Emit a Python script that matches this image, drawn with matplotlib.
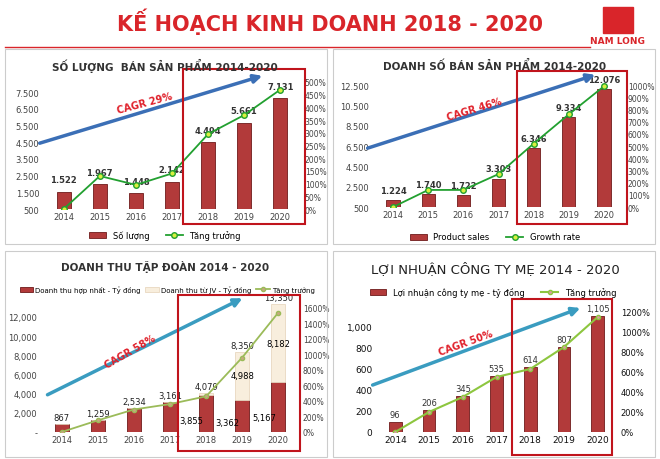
import matplotlib
matplotlib.use("Agg")
import matplotlib.pyplot as plt
from matplotlib.patches import Rectangle, FancyArrowPatch
from matplotlib.ticker import FuncFormatter

W, H = 660, 460
years = ["2014", "2015", "2016", "2017", "2018", "2019", "2020"]
units_sold = [1522, 1967, 1448, 2142, 4494, 5661, 7131]
units_growth = [0, 130, 95, 140, 295, 370, 470]
sales = [1224, 1740, 1722, 3303, 6346, 9334, 12076]
sales_growth = [0, 140, 140, 270, 520, 760, 990]
rev_consolidated = [867, 1259, 2534, 3161, 3855, 3362, 5167]
rev_jv = [0, 0, 0, 0, 224, 4988, 8182]
rev_total = [867, 1259, 2534, 3161, 4079, 8350, 13350]
rev_growth = [0, 150, 290, 360, 460, 960, 1540]
profit = [96, 206, 345, 535, 614, 807, 1105]
profit_growth = [0, 200, 350, 550, 630, 850, 1150]

plt.rcParams['font.family'] = ['DejaVu Sans']
fig = plt.figure(figsize=(6.6, 4.6), dpi=100)

def ax_px(x0, y0, x1, y1):
    return fig.add_axes([x0 / W, 1 - y1 / H, (x1 - x0) / W, (y1 - y0) / H])

def fx(x): return x / W
def fy(y): return 1 - y / H

BAR = '#B23A3A'
BAR_E = '#6E1A1A'
dot = FuncFormatter(lambda v, p: f"{int(v):,}".replace(",", "."))
com = FuncFormatter(lambda v, p: "-" if v == 0 else f"{int(v):,}")
pct = FuncFormatter(lambda v, p: f"{int(round(v))}%")

def style(ax, ax2):
    for a in (ax, ax2):
        for s in a.spines.values():
            s.set_visible(False)
        a.tick_params(length=0, labelsize=6, colors='#444444', pad=2)
    ax2.tick_params(labelsize=5.5)

# Title
fig.text(0.5, fy(22), "KẾ HOẠCH KINH DOANH 2018 - 2020", ha='center', va='center',
         color='#D9252A', fontsize=15, fontweight='bold')
fig.add_artist(Rectangle((fx(603), fy(34)), fx(30), fy(8) - fy(34), transform=fig.transFigure,
                         color='#D9252A'))
fig.text(fx(617), fy(42), "NAM LONG", ha='center', va='center', color='#D9252A',
         fontsize=6.5, fontweight='bold')
fig.add_artist(plt.Line2D([fx(5), fx(590)], [fy(48), fy(48)], color='#D9252A', lw=1))

# panel frames
for (x0, y0, x1, y1) in [(5, 50, 327, 245), (333, 50, 655, 245), (5, 252, 327, 458), (333, 252, 655, 458)]:
    fig.add_artist(Rectangle((fx(x0), fy(y1)), fx(x1) - fx(x0), fy(y0) - fy(y1),
                             transform=fig.transFigure, fill=False, ec='#cccccc', lw=0.8))

x = list(range(7))

def arrow(p0, p1, color, txt, tp, rot):
    fig.add_artist(FancyArrowPatch((fx(p0[0]), fy(p0[1])), (fx(p1[0]), fy(p1[1])),
                                   transform=fig.transFigure, arrowstyle='-|>', mutation_scale=12,
                                   color=color, lw=2.5))
    fig.text(fx(tp[0]), fy(tp[1]), txt, rotation=rot, color='#E0202A', fontsize=7,
             fontweight='bold', ha='center', va='center')

def redbox(x0, y0, x1, y1):
    fig.add_artist(Rectangle((fx(x0), fy(y1)), fx(x1) - fx(x0), fy(y0) - fy(y1),
                             transform=fig.transFigure, fill=False, ec='#C0141C', lw=1.5))

# Panel 1
ax = ax_px(42, 83, 302, 210); ax2 = ax.twinx()
ax.bar(x, units_sold, width=0.38, color=BAR, edgecolor=BAR_E, lw=0.6, label="Số lượng")
ax.set_ylim(500, 8100); ax.set_yticks([500, 1500, 2500, 3500, 4500, 5500, 6500, 7500])
ax.yaxis.set_major_formatter(dot)
ax2.plot(x, units_growth, color='#22A030', lw=1.3, marker='o', ms=4, mfc='#D8F040', mec='#22A030', label="Tăng trưởng")
ax2.set_ylim(0, 500); ax2.set_yticks(range(0, 501, 50)); ax2.yaxis.set_major_formatter(pct)
ax.set_xticks(x, years); ax.set_xlim(-0.6, 6.6)
for i, v in enumerate(units_sold):
    ax.text(i, v + 450, f"{v:,}".replace(",", "."), ha='center', va='bottom', fontsize=6, fontweight='bold', color='#333333')
style(ax, ax2)
fig.text(fx(165), fy(66), "SỐ LƯỢNG  BÁN SẢN PHẨM 2014-2020", ha='center', va='center', fontsize=7.5, fontweight='bold', color='#333333')
h1, l1 = ax.get_legend_handles_labels(); h2, l2 = ax2.get_legend_handles_labels()
fig.legend(h1 + h2, l1 + l2, loc='center', bbox_to_anchor=(fx(165), fy(236)), ncol=2, frameon=False, fontsize=6)
arrow((37, 145), (265, 76), '#3B6FB6', "CAGR 29%", (145, 104), 15)
redbox(183, 70, 305, 225)

# Panel 2
ax = ax_px(372, 80, 625, 208); ax2 = ax.twinx()
ax.bar(x, sales, width=0.38, color=BAR, edgecolor=BAR_E, lw=0.6, label="Product sales")
ax.set_ylim(500, 13100); ax.set_yticks([500, 2500, 4500, 6500, 8500, 10500, 12500])
ax.yaxis.set_major_formatter(dot)
ax2.plot(x, sales_growth, color='#22A030', lw=1.3, marker='o', ms=4, mfc='#D8F040', mec='#22A030', label="Growth rate")
ax2.set_ylim(0, 1050); ax2.set_yticks(range(0, 1001, 100)); ax2.yaxis.set_major_formatter(pct)
ax.set_xticks(x, years); ax.set_xlim(-0.6, 6.6)
for i, v in enumerate(sales):
    ax.text(i, v + 500, f"{v:,}".replace(",", "."), ha='center', va='bottom', fontsize=6, fontweight='bold', color='#333333')
style(ax, ax2)
fig.text(fx(495), fy(66), "DOANH SỐ BÁN SẢN PHẨM 2014-2020", ha='center', va='center', fontsize=7.5, fontweight='bold', color='#333333')
h1, l1 = ax.get_legend_handles_labels(); h2, l2 = ax2.get_legend_handles_labels()
fig.legend(h1 + h2, l1 + l2, loc='center', bbox_to_anchor=(fx(495), fy(238)), ncol=2, frameon=False, fontsize=6)
arrow((365, 150), (598, 75), '#3B6FB6', "CAGR 46%", (474, 110), 17)
redbox(517, 72, 627, 225)

# Panel 3
ax = ax_px(40, 305, 300, 433); ax2 = ax.twinx()
ax.bar(x, rev_consolidated, width=0.38, color=BAR, edgecolor=BAR_E, lw=0.6, label="Doanh thu hợp nhất - Tỷ đồng")
ax.bar(x, rev_jv, width=0.38, bottom=rev_consolidated, color='#F8EEDD', edgecolor='#E8D8C0', lw=0.6, label="Doanh thu từ JV - Tỷ đồng")
ax.set_ylim(0, 13350); ax.set_yticks(range(0, 12001, 2000)); ax.yaxis.set_major_formatter(com)
ax2.plot(x, rev_growth, color='#9BBB59', lw=1.3, marker='o', ms=3, mfc='#C8A880', mec='#9BBB59', label="Tăng trưởng")
ax2.set_ylim(0, 1650); ax2.set_yticks(range(0, 1601, 200)); ax2.yaxis.set_major_formatter(pct)
ax.set_xticks(x, years); ax.set_xlim(-0.6, 6.6)
for i in range(7):
    ax.text(i, rev_total[i] + 200, f"{rev_total[i]:,}", ha='center', va='bottom', fontsize=6, color='#222222')
    if i >= 4:
        ax.text(i - 0.4, rev_consolidated[i] * 0.3, f"{rev_consolidated[i]:,}", ha='center', va='center', fontsize=6)
    if i >= 5:
        ax.text(i, rev_consolidated[i] + rev_jv[i] * 0.5, f"{rev_jv[i]:,}", ha='center', va='center', fontsize=6)
style(ax, ax2)
fig.text(fx(165), fy(267), "DOANH THU TẬP ĐOÀN 2014 - 2020", ha='center', va='center', fontsize=7.5, fontweight='bold', color='#333333')
h1, l1 = ax.get_legend_handles_labels(); h2, l2 = ax2.get_legend_handles_labels()
fig.legend(h1 + h2, l1 + l2, loc='center', bbox_to_anchor=(fx(167), fy(290)), ncol=3, frameon=False, fontsize=5, columnspacing=0.6, handletextpad=0.3)
arrow((45, 397), (245, 298), '#3A9CC0', "CAGR 58%", (130, 352), 30)
redbox(178, 296, 300, 452)

# Panel 4
ax = ax_px(375, 310, 618, 433); ax2 = ax.twinx()
ax.bar(x, profit, width=0.38, color=BAR, edgecolor=BAR_E, lw=0.6, label="Lợi nhuận công ty mẹ - tỷ đồng")
ax.set_ylim(0, 1170); ax.set_yticks(range(0, 1001, 200)); ax.yaxis.set_major_formatter(FuncFormatter(lambda v, p: f"{int(v):,}"))
ax2.plot(x, profit_growth, color='#8DC63F', lw=1.5, marker='o', ms=3, mfc='#D8A0A0', mec='#8DC63F', label="Tăng trưởng")
ax2.set_ylim(0, 1230); ax2.set_yticks(range(0, 1201, 200)); ax2.yaxis.set_major_formatter(pct)
ax.set_xticks(x, years); ax.set_xlim(-0.6, 6.6)
for i, v in enumerate(profit):
    ax.text(i, v + 30, f"{v:,}", ha='center', va='bottom', fontsize=6, color='#333333')
style(ax, ax2)
ax.tick_params(labelsize=6.5, labelcolor='#111111')
ax2.tick_params(labelsize=6, labelcolor='#111111')
fig.text(fx(495), fy(269), "LỢI NHUẬN CÔNG TY MẸ 2014 - 2020", ha='center', va='center', fontsize=9.5, color='#222222')
h1, l1 = ax.get_legend_handles_labels(); h2, l2 = ax2.get_legend_handles_labels()
fig.legend(h1 + h2, l1 + l2, loc='center', bbox_to_anchor=(fx(493), fy(293)), ncol=2, frameon=False, fontsize=6)
arrow((370, 387), (583, 308), '#3A9CC0', "CAGR 50%", (466, 343), 20)
redbox(512, 300, 612, 456)

fig.savefig("out.png", dpi=100)
